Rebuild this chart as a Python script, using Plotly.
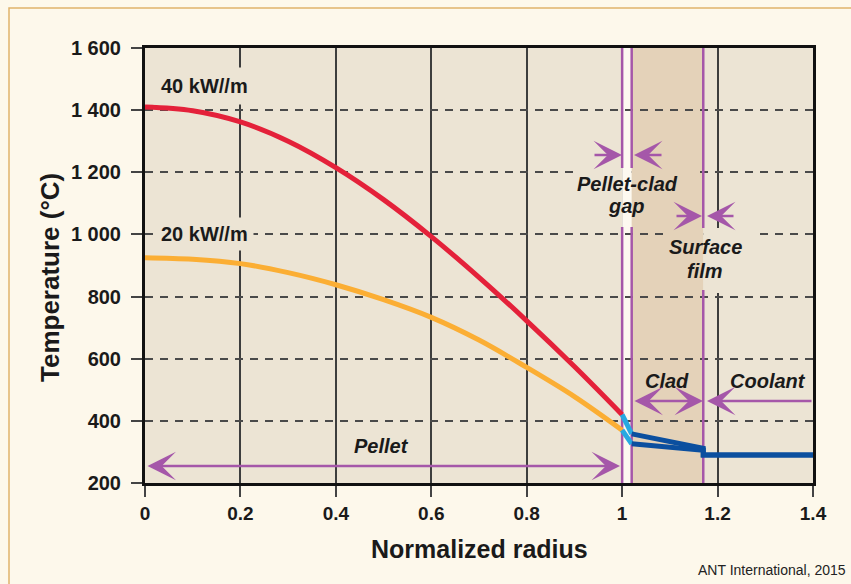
import plotly.graph_objects as go

# ---------------- data ----------------
pellet_r = [0.0, 0.1, 0.2, 0.3, 0.4, 0.5, 0.6, 0.7, 0.8, 0.9, 1.0]
t40_pellet = [1410, 1398, 1362, 1300, 1215, 1112, 993, 862, 722, 575, 420]
t20_pellet = [925, 920, 906, 877, 838, 790, 733, 660, 572, 478, 370]

gap_r = [1.0, 1.02]
t40_gap = [420, 358]
t20_gap = [370, 326]

clad_cool_r = [1.02, 1.17, 1.17, 1.4]
t40_clad_cool = [358, 312, 290, 290]
t20_clad_cool = [326, 305, 290, 290]

x_tickvals = [0, 0.2, 0.4, 0.6, 0.8, 1.0, 1.2, 1.4]
x_ticktext = ["0", "0.2", "0.4", "0.6", "0.8", "1", "1.2", "1.4"]
y_tickvals = [200, 400, 600, 800, 1000, 1200, 1400, 1600]
y_ticktext = ["200", "400", "600", "800", "1 000", "1 200", "1 400", "1 600"]

# region boundaries (normalized radius)
PELLET_EDGE = 1.0
CLAD_IN = 1.02
CLAD_OUT = 1.17
R_MAX = 1.4
T_MIN, T_MAX = 200, 1600

# ---------------- layout geometry ----------------
W, H = 851, 584
L, R, T, B = 145, 38, 48, 101
PW, PH = W - L - R, H - T - B


def rx(px):  # pixel x -> normalized radius (for label placement)
    return (px - L) / PW * R_MAX


def ty(py):  # pixel y -> temperature (for label placement)
    return T_MAX - (py - T) / PH * (T_MAX - T_MIN)


def pxp(px):
    return (px - L) / PW


def pyp(py):
    return (H - B - py) / PH


# ---------------- style ----------------
PAGE_BG = "#fdf8eb"
PLOT_BG = "#ece4d4"
CLAD_BG = "#e4d2b9"
GAP_BG = "#fdf9f0"
PURPLE = "#a557a9"
RED = "#e4213a"
ORANGE = "#fbae34"
LBLUE = "#27a9e1"
DBLUE = "#0b4f9f"
TXT = "#1a1a1a"
FONT = "Liberation Sans, Arial, sans-serif"

fig = go.Figure()

fig.add_trace(go.Scatter(x=pellet_r, y=t20_pellet, mode="lines",
                         line=dict(color=ORANGE, width=5, shape="spline"), hoverinfo="skip"))
fig.add_trace(go.Scatter(x=pellet_r, y=t40_pellet, mode="lines",
                         line=dict(color=RED, width=5, shape="spline"), hoverinfo="skip"))
for tv in (t40_gap, t20_gap):
    fig.add_trace(go.Scatter(x=gap_r, y=tv, mode="lines",
                             line=dict(color=LBLUE, width=5), hoverinfo="skip"))
for tv in (t20_clad_cool, t40_clad_cool):
    fig.add_trace(go.Scatter(x=clad_cool_r, y=tv, mode="lines",
                             line=dict(color=DBLUE, width=5), hoverinfo="skip"))

shapes = []
# region backgrounds (below grid)
shapes.append(dict(type="rect", xref="x", yref="y", x0=CLAD_IN, x1=CLAD_OUT, y0=T_MIN, y1=T_MAX,
                   fillcolor=CLAD_BG, line=dict(width=0), layer="below"))
shapes.append(dict(type="rect", xref="x", yref="y", x0=PELLET_EDGE, x1=CLAD_IN, y0=T_MIN, y1=T_MAX,
                   fillcolor=GAP_BG, line=dict(width=0), layer="below"))


def mask(x0, x1, y0, y1, color):
    shapes.append(dict(type="rect", xref="x", yref="y", x0=x0, x1=x1, y0=y0, y1=y1,
                       fillcolor=color, line=dict(width=0), layer="between"))


# masks behind the "Pellet-clad gap" label
mask(rx(575), PELLET_EDGE, ty(227), ty(168), PLOT_BG)
mask(PELLET_EDGE, CLAD_IN, ty(227), ty(168), GAP_BG)
mask(CLAD_IN, rx(693), ty(227), ty(168), CLAD_BG)
# masks behind the "Surface film" label
mask(rx(663), CLAD_OUT, ty(293), ty(228), CLAD_BG)
mask(CLAD_OUT, rx(753), ty(293), ty(228), PLOT_BG)


def vline(x, y0, y1):
    shapes.append(dict(type="line", xref="x", yref="y", x0=x, x1=x, y0=y0, y1=y1,
                       line=dict(color=PURPLE, width=2.5), layer="between"))


for xb in (PELLET_EDGE, CLAD_IN):
    vline(xb, T_MIN, ty(227))
    vline(xb, ty(168), T_MAX)
vline(CLAD_OUT, T_MIN, ty(290))
vline(CLAD_OUT, ty(228), T_MAX)

# page border
shapes.append(dict(type="rect", xref="paper", yref="paper", x0=pxp(9), x1=pxp(900), y0=pyp(640), y1=pyp(8),
                   line=dict(color="#dfb36c", width=1.5), fillcolor="rgba(0,0,0,0)", layer="below"))

annotations = []


def label(px, py, text, italic=True, bg=None, pad=1, size=20):
    a = dict(x=rx(px), y=ty(py), xref="x", yref="y", text=text, showarrow=False,
             font=dict(family=FONT, size=size, color=TXT, weight="bold",
                       style="italic" if italic else "normal"),
             xanchor="center", yanchor="middle", borderpad=pad)
    if bg:
        a["bgcolor"] = bg
    annotations.append(a)


label(204, 86, "40 kW//m", italic=False, bg=PLOT_BG, pad=7)
label(204, 234, "20 kW//m", italic=False, bg=PLOT_BG, pad=5)
label(381.5, 446, "Pellet")
label(627.5, 184, "Pellet-clad")
label(626, 206, "gap")
label(705, 247, "Surface")
label(705, 271, "film")
label(666.5, 381, "Clad")
label(767.5, 381, "Coolant")

AH = 1.9


def arrow(tip_px, tail_px, py, both=False):
    a = dict(x=rx(tip_px), y=ty(py), ax=rx(tail_px), ay=ty(py), xref="x", yref="y",
             axref="x", ayref="y", text="", showarrow=True, arrowhead=3, arrowsize=AH,
             arrowwidth=2.5, arrowcolor=PURPLE, standoff=0, startstandoff=0)
    if both:
        a.update(arrowside="end+start", startarrowhead=3, startarrowsize=AH)
    annotations.append(a)


arrow(620, 146, 466, both=True)
arrow(703, 633, 401, both=True)
arrow(707, 813, 401)
arrow(622, 593, 155)
arrow(634, 663, 155)
arrow(702, 675, 216)
arrow(707, 735, 216)

# axis titles and credit
annotations.append(dict(x=0.5, y=pyp(549), xref="paper", yref="paper", text="Normalized radius",
                        showarrow=False, xanchor="center", yanchor="middle",
                        font=dict(family=FONT, size=25, color=TXT, weight="bold")))
annotations.append(dict(x=pxp(50), y=pyp(277), xref="paper", yref="paper", text="Temperature (°C)",
                        showarrow=False, xanchor="center", yanchor="middle", textangle=-90,
                        font=dict(family=FONT, size=26, color=TXT, weight="bold")))
annotations.append(dict(x=pxp(848), y=pyp(570), xref="paper", yref="paper", text="ANT International, 2015",
                        showarrow=False, xanchor="right", yanchor="middle",
                        font=dict(family=FONT, size=14, color="#222222")))

fig.update_layout(
    width=W, height=H,
    margin=dict(l=L, r=R, t=T, b=B),
    paper_bgcolor=PAGE_BG, plot_bgcolor=PLOT_BG,
    showlegend=False,
    shapes=shapes, annotations=annotations,
    xaxis=dict(range=[0, R_MAX], tickvals=x_tickvals, ticktext=x_ticktext,
               showgrid=True, gridcolor="#3d3d3d", gridwidth=1.5,
               showline=True, linecolor="#111111", linewidth=3, mirror=True,
               ticks="outside", ticklen=11, tickwidth=2, tickcolor="#444444",
               tickfont=dict(family=FONT, size=19, color=TXT, weight="bold"),
               zeroline=False, fixedrange=True),
    yaxis=dict(range=[T_MIN, T_MAX], tickvals=y_tickvals, ticktext=y_ticktext,
               showgrid=True, gridcolor="#4a4a4a", gridwidth=2, griddash="8px,7px",
               showline=True, linecolor="#111111", linewidth=3, mirror=True,
               ticks="outside", ticklen=11, tickwidth=2, tickcolor="#444444",
               tickfont=dict(family=FONT, size=20, color=TXT, weight="bold"),
               ticklabelstandoff=6,
               zeroline=False, fixedrange=True),
)

fig.write_html("out.html")
